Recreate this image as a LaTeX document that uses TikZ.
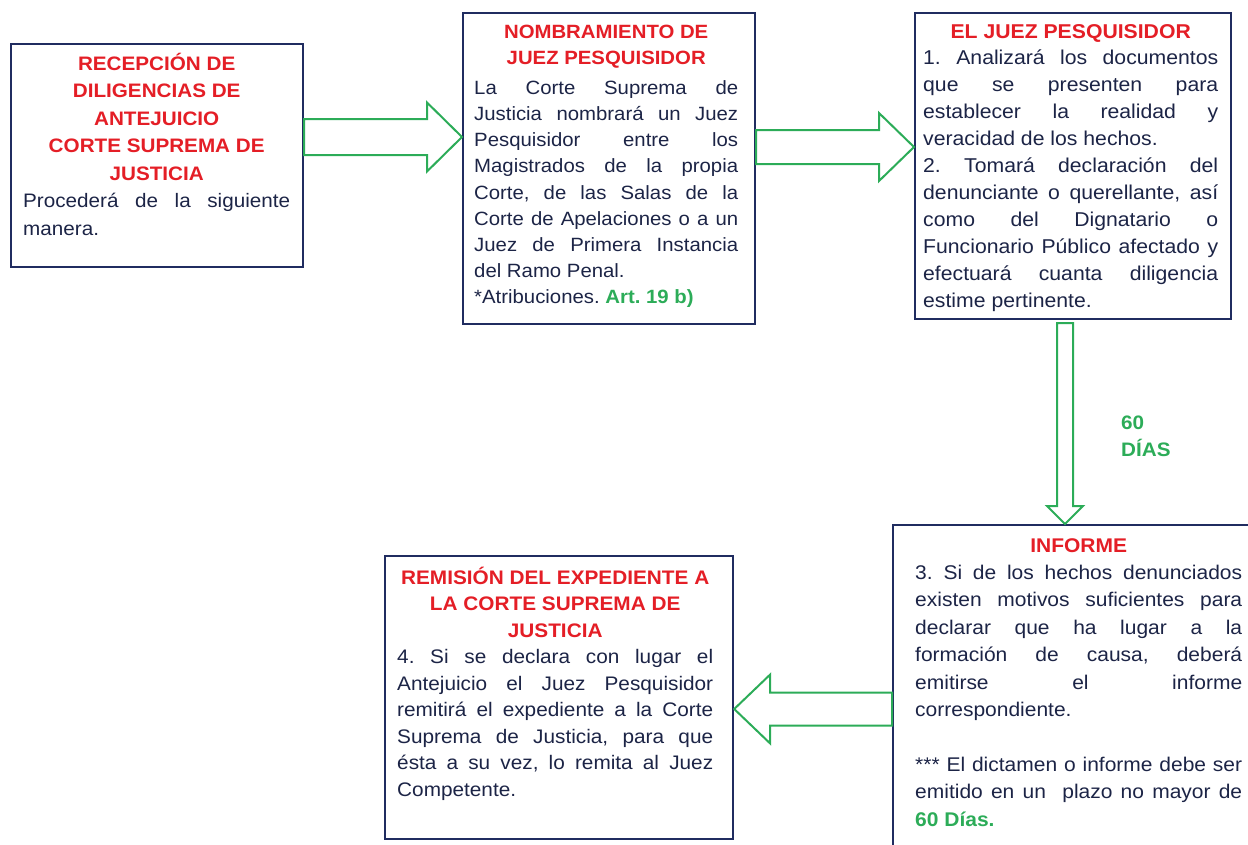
\documentclass[tikz,border=0pt]{standalone}
\usepackage{fontspec}
\setmainfont[FakeStretch=1.06]{Liberation Sans}
\usetikzlibrary{calc}
\definecolor{azul}{RGB}{32,44,96}
\definecolor{tinta}{RGB}{28,36,70}
\definecolor{rojo}{RGB}{228,30,38}
\definecolor{verde}{RGB}{44,172,88}
\newcommand{\titulo}[1]{{\centering\leavevmode\color{rojo}\bfseries #1\par}}
\newcommand{\flecha}[5]{%
	\path ($(#2)!#5!(#1)$) coordinate (hb);
	\draw[bloque] ($(#1)!#3!90:(#2)$) -- ($(hb)!#3!90:(#2)$) -- ($(hb)!#4!90:(#2)$) -- (#2)
	-- ($(hb)!#4!-90:(#2)$) -- ($(hb)!#3!-90:(#2)$) -- ($(#1)!#3!-90:(#2)$) -- cycle;}
\begin{document}
\begin{tikzpicture}[x=1pt,y=-1pt,line join=miter]
	\tikzset{caja/.style={draw=azul,line width=2.2pt,anchor=north west,inner sep=0pt},
		texto/.style={anchor=base west,inner sep=0pt,text=tinta,font=\frenchspacing},
		bloque/.style={draw=verde,line width=2pt,fill=white}}
	\clip (0,0) rectangle (1248,844);
	\node[caja,minimum width=292pt,minimum height=223pt] (recep) at (10,43) {};
	\node[caja,minimum width=292pt,minimum height=311pt] (nombra) at (462,12) {};
	\node[caja,minimum width=316pt,minimum height=306pt] (juez) at (914,12) {};
	\node[caja,minimum width=370pt,minimum height=340pt] (informe) at (892,524) {};
	\node[caja,minimum width=348pt,minimum height=283pt] (remision) at (384,555) {};
	\node[texto] (recept) at (23,70) {\begin{minipage}[t]{267pt}\fontsize{19.5}{27.5}\selectfont
			\titulo{RECEPCIÓN DE\\DILIGENCIAS DE\\ANTEJUICIO\\CORTE SUPREMA DE\\JUSTICIA}
			Procederá de la siguiente\linebreak manera.\end{minipage}};
	\node[texto] (nombrat) at (474,38) {\begin{minipage}[t]{264pt}\fontsize{19.2}{26.2}\selectfont
			\titulo{NOMBRAMIENTO DE\\JUEZ PESQUISIDOR}\vspace{3.8pt}
			La Corte Suprema de\linebreak Justicia nombrará un Juez\linebreak Pesquisidor entre los\linebreak
			Magistrados de la propia\linebreak Corte, de las Salas de la\linebreak Corte de Apelaciones o a un\linebreak
			Juez de Primera Instancia\linebreak del Ramo Penal.\par
			*Atribuciones. {\color{verde}\bfseries Art. 19 b)}\end{minipage}};
	\node[texto] (juezt) at (923,38) {\begin{minipage}[t]{295pt}\fontsize{20}{27}\selectfont
			\titulo{EL JUEZ PESQUISIDOR}\vspace{-1pt}
			1. Analizará los documentos\linebreak que se presenten para\linebreak establecer la realidad y\linebreak
			veracidad de los hechos.\par
			2. Tomará declaración del\linebreak denunciante o querellante, así\linebreak como del Dignatario o\linebreak
			Funcionario Público afectado y\linebreak efectuará cuanta diligencia\linebreak estime pertinente.\end{minipage}};
	\node[texto] (informet) at (915,552) {\begin{minipage}[t]{327pt}\fontsize{19.8}{27.4}\selectfont
			\titulo{INFORME}
			3. Si de los hechos denunciados\linebreak existen motivos suficientes para\linebreak
			declarar que ha lugar a la\linebreak formación de causa, deberá\linebreak emitirse el informe\linebreak
			correspondiente.\par\vspace{27.4pt}
			*** El dictamen o informe debe ser\linebreak emitido en un\ \ plazo no mayor de\linebreak
			{\color{verde}\bfseries 60 Días.}\end{minipage}};
	\node[texto] (remisiont) at (397,584) {\begin{minipage}[t]{316pt}\fontsize{19.6}{26.5}\selectfont
			\titulo{REMISIÓN DEL EXPEDIENTE A\\LA CORTE SUPREMA DE\\JUSTICIA}
			4. Si se declara con lugar el\linebreak Antejuicio el Juez Pesquisidor\linebreak
			remitirá el expediente a la Corte\linebreak Suprema de Justicia, para que\linebreak
			ésta a su vez, lo remita al Juez\linebreak Competente.\end{minipage}};
	\node[anchor=north west,inner sep=0pt,align=left,text=verde,font=\fontsize{19.5}{27}\selectfont\bfseries] (dias) at (1121,416) {60\\DÍAS};
	\coordinate (t1) at (recep.east |- 0,137);
	\coordinate (p1) at (nombra.west |- 0,137);
	\coordinate (t2) at (nombra.east |- 0,147);
	\coordinate (p2) at (juez.west |- 0,147);
	\coordinate (t3) at ($(juez.south -| 1065,0)+(0,3)$);
	\coordinate (p3) at (informe.north -| 1065,0);
	\coordinate (t4) at (informe.west |- 0,709);
	\coordinate (p4) at (remision.east |- 0,709);
	\flecha{t1}{p1}{18pt}{34.5pt}{35pt}
	\flecha{t2}{p2}{17pt}{34pt}{35pt}
	\flecha{t3}{p3}{8pt}{18pt}{18pt}
	\flecha{t4}{p4}{16.5pt}{34.5pt}{36pt}
\end{tikzpicture}
\end{document}
